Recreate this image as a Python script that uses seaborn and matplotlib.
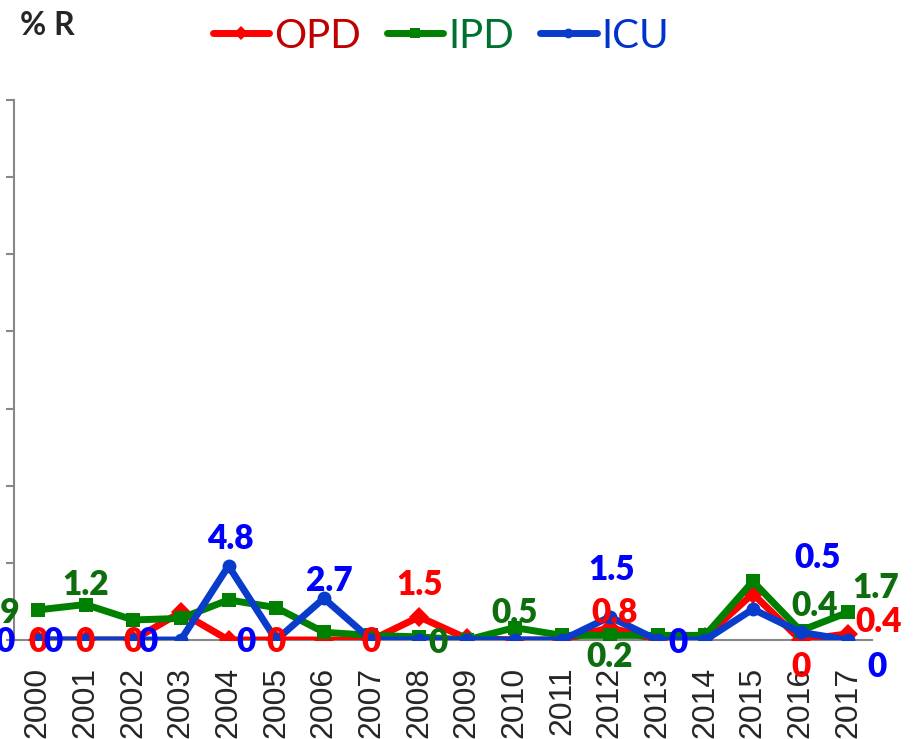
import matplotlib
matplotlib.use('Agg')
import matplotlib.pyplot as plt
import seaborn as sns
import pandas as pd

# Values (% R per year)
years = ['2000', '2001', '2002', '2003', '2004', '2005', '2006', '2007', '2008',
         '2009', '2010', '2011', '2012', '2013', '2014', '2015', '2016', '2017']
opd = [0, 0, 0, 1.8, 0, 0, 0, 0, 1.5, 0.1, 0, 0, 0.8, 0, 0.2, 3.0, 0, 0.4]
ipd = [1.95, 2.3, 1.3, 1.4, 2.6, 2.1, 0.5, 0.3, 0.2, 0, 0.8, 0.3, 0.3, 0.3, 0.3, 3.8, 0.6, 1.8]
icu = [0, 0, 0, 0, 4.8, 0, 2.7, 0, 0, 0, 0, 0, 1.5, 0, 0, 2.0, 0.5, 0]

# data labels visible in the reference: (year index, text)
opd_labels = [(0, '0'), (1, '0'), (2, '0'), (5, '0'), (7, '0'), (8, '1.5'),
              (12, '0.8'), (16, '0'), (17, '0.4')]
ipd_labels = [(0, '1.9'), (1, '1.2'), (8, '0'), (10, '0.5'), (12, '0.2'),
              (16, '0.4'), (17, '1.7')]
icu_labels = [(0, '0'), (1, '0'), (3, '0'), (4, '4.8'), (5, '0'), (6, '2.7'),
              (12, '1.5'), (13, '0'), (16, '0.5'), (17, '0')]

# label placement (dx px, baseline dy px, ha)
opd_place = [(0, -12, 'center')] * 5 + [(0, 22, 'center'), (5, 5, 'center'),
                                        (1, -37, 'center'), (7, 2, 'left')]
ipd_place = [(-18, -13, 'right'), (0, 10, 'center'), (9, -16, 'left'),
             (0, 5, 'center'), (0, -32, 'center'), (14, 15, 'center'), (4, 14, 'left')]
icu_place = [(-23, -12, 'right'), (-23, -12, 'right'), (-23, -12, 'right'),
             (2, 17, 'center'), (-21, -12, 'right'), (6, 7, 'center'),
             (2, 37, 'center'), (11, -13, 'left'), (17, 64, 'center'), (19, -37, 'left')]

df = pd.DataFrame({
    'year': years * 3,
    'x': list(range(len(years))) * 3,
    'value': opd + ipd + icu,
    'unit': ['OPD'] * len(years) + ['IPD'] * len(years) + ['ICU'] * len(years),
})

sns.set_style('white')
plt.rcParams['font.family'] = ['Lato', 'DejaVu Sans']

line_colors = {'OPD': '#FF0000', 'IPD': '#008000', 'ICU': '#0A3CCC'}
label_colors = {'OPD': '#FF0000', 'IPD': '#0E6E0E', 'ICU': '#0000FF'}
legend_colors = {'OPD': '#C00000', 'IPD': '#007030', 'ICU': '#0033CC'}

fig = plt.figure(figsize=(9.14, 7.39), dpi=100)
ax = fig.add_axes([14 / 914, 99 / 739, 858 / 914, 540 / 739])

sns.lineplot(data=df, x='x', y='value', hue='unit', style='unit',
             palette=line_colors, markers={'OPD': 'D', 'IPD': 's', 'ICU': 'o'},
             dashes=False, linewidth=5, markersize=10, markeredgewidth=0,
             ax=ax, legend=True, zorder=3)

series = [('OPD', opd, opd_labels, opd_place),
          ('IPD', ipd, ipd_labels, ipd_place),
          ('ICU', icu, icu_labels, icu_place)]
for name, vals, labels, place in series:
    for (i, txt), (dx, dy, ha) in zip(labels, place):
        ax.annotate(txt, (i, vals[i]), xytext=(dx, dy), textcoords='offset pixels',
                    ha=ha, va='baseline', fontsize=24, fontweight='heavy',
                    color=label_colors[name], zorder=5)

ax.set_xlim(-0.5, len(years) - 0.5)
ax.set_ylim(0, 35)
ax.set_xticks(range(len(years)))
ax.set_xticklabels(years, rotation=90, fontsize=23, family='Liberation Sans')
ax.set_xticks([k - 0.5 for k in range(len(years) + 1)], minor=True)
ax.set_yticks(range(0, 36, 5))
ax.set_yticklabels([])
ax.tick_params(axis='x', which='major', length=0, pad=19)
ax.tick_params(axis='x', which='minor', length=9, width=1.5, color='#888888', direction='out')
ax.tick_params(axis='y', length=6, width=1.5, color='#888888', direction='out', left=True)
ax.set_xlabel('')
ax.set_ylabel('')
for side in ['top', 'right']:
    ax.spines[side].set_visible(False)
for side in ['left', 'bottom']:
    ax.spines[side].set_color('#888888')
    ax.spines[side].set_linewidth(1.5)

handles, names = ax.get_legend_handles_labels()
for h in handles:
    h.set_markersize(7)
    h.set_solid_capstyle('round')
leg = fig.legend(handles, names, loc='center', bbox_to_anchor=(441 / 914, 1 - 36 / 739),
                 ncol=3, frameon=False, fontsize=29, handlelength=1.4,
                 handletextpad=0.12, columnspacing=0.65, borderaxespad=0)
for t in leg.get_texts():
    t.set_color(legend_colors[t.get_text()])
ax.get_legend().remove()

fig.text(20 / 914, 1 - 35 / 739, '% R', fontsize=23, fontweight='bold', ha='left', va='baseline')

fig.savefig('out.png', dpi=100)
